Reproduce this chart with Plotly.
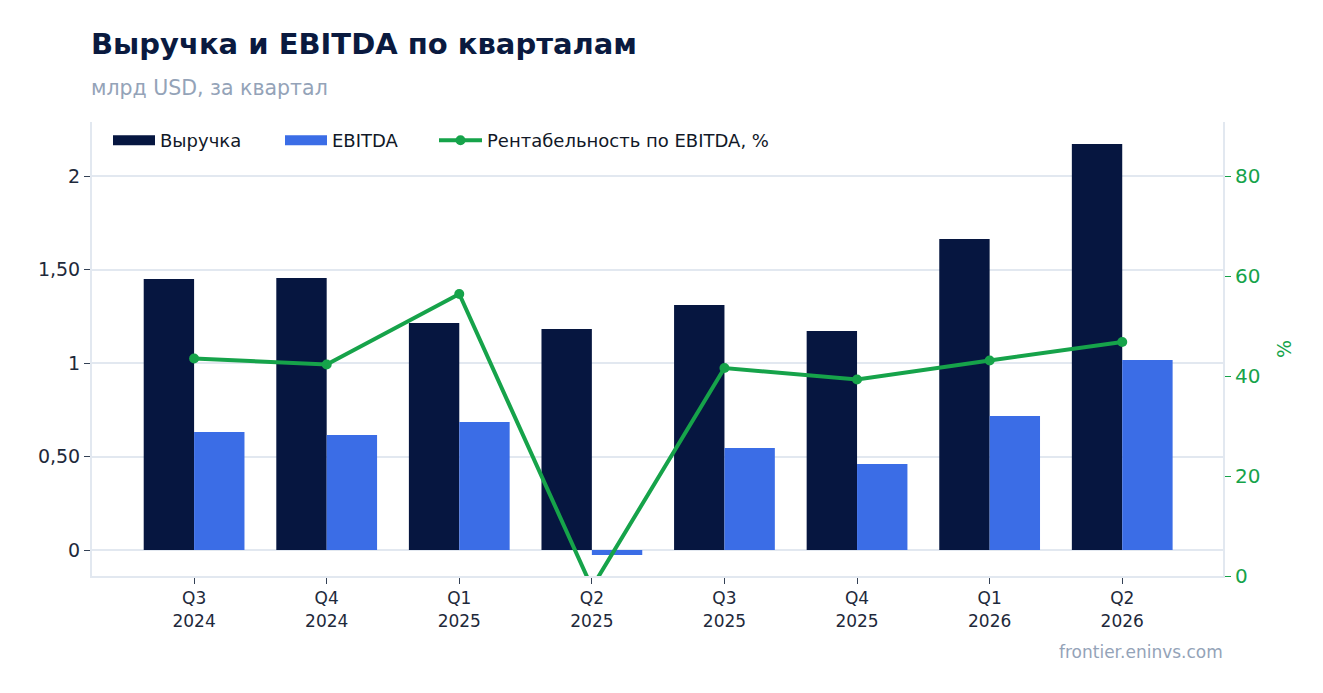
import plotly.graph_objects as go

quarters = ['Q3<br>2024', 'Q4<br>2024', 'Q1<br>2025', 'Q2<br>2025',
            'Q3<br>2025', 'Q4<br>2025', 'Q1<br>2026', 'Q2<br>2026']
revenue = [1.45, 1.455, 1.214, 1.182, 1.31, 1.171, 1.663, 2.171]
ebitda = [0.631, 0.615, 0.684, -0.027, 0.545, 0.46, 0.717, 1.016]
margin = [43.5, 42.3, 56.4, -2.3, 41.6, 39.3, 43.1, 46.8]

left_ticks = [0, 0.5, 1, 1.5, 2]
left_ticktext = ['0', '0,50', '1', '1,50', '2']
right_ticks = [0, 20, 40, 60, 80]

navy = '#061640'
blue = '#3b6de6'
green = '#16a34a'
grid = '#e2e8f0'
muted = '#94a3b8'

fig = go.Figure()

# bars (legend entries drawn by wide-line stand-ins below, like the original's rectangles)
fig.add_trace(go.Bar(x=quarters, y=revenue, name='Выручка', marker_color=navy,
                     marker_line_width=0, showlegend=False))
fig.add_trace(go.Bar(x=quarters, y=ebitda, name='EBITDA', marker_color=blue,
                     marker_line_width=0, showlegend=False))
fig.add_trace(go.Scatter(
    x=quarters, y=margin, name='Рентабельность по EBITDA, %',
    mode='lines+markers', yaxis='y2', legend='legend3',
    line=dict(color=green, width=4),
    marker=dict(color=green, size=10),
))
fig.add_trace(go.Scatter(x=[None], y=[None], name='Выручка', mode='lines',
                         line=dict(color=navy, width=13), legend='legend'))
fig.add_trace(go.Scatter(x=[None], y=[None], name='EBITDA', mode='lines',
                         line=dict(color=blue, width=13), legend='legend2'))

leg = dict(orientation='h', y=1.0, xanchor='left', yanchor='top',
           font=dict(size=18, color='#111827'), bgcolor='rgba(0,0,0,0)',
           itemwidth=42)

fig.update_layout(
    width=1307, height=677,
    paper_bgcolor='white', plot_bgcolor='white',
    font=dict(family='DejaVu Sans', color='#1e293b'),
    margin=dict(l=84, r=92, t=114, b=109),
    barmode='group', bargap=0.24, bargroupgap=0,
    showlegend=True,
    legend=dict(leg, x=(108 - 92) / 1131),
    legend2=dict(leg, x=(280 - 92) / 1131),
    legend3=dict(leg, x=(434 - 92) / 1131, itemwidth=43),
    xaxis=dict(
        range=[-0.77, 7.76], showgrid=False,
        showline=True, linecolor=grid, linewidth=2,
        ticks='outside', ticklen=6, tickcolor='#334155',
        tickfont=dict(size=17, color='#1e293b'),
    ),
    yaxis=dict(
        range=[-0.139, 2.289], tickvals=left_ticks, ticktext=left_ticktext,
        showgrid=True, gridcolor=grid, gridwidth=2, zeroline=False,
        showline=True, linecolor=grid, linewidth=2,
        ticks='outside', ticklen=6, tickcolor='#334155',
        tickfont=dict(size=19, color='#1e293b'),
    ),
    yaxis2=dict(
        overlaying='y', side='right', range=[0, 90.8], tickvals=right_ticks,
        showgrid=False, zeroline=False,
        showline=True, linecolor=grid, linewidth=2,
        ticks='outside', ticklen=6, tickcolor=green,
        tickfont=dict(size=20, color=green),
        title=dict(text='%', font=dict(size=19, color=green), standoff=18),
    ),
    annotations=[
        dict(text='<b>Выручка и EBITDA по кварталам</b>', xref='paper', yref='paper',
             x=0, y=1.172, xanchor='left', yanchor='middle', showarrow=False,
             xshift=-3, font=dict(size=29, color='#0a1a3f')),
        dict(text='млрд USD, за квартал', xref='paper', yref='paper',
             x=0, y=1.075, xanchor='left', yanchor='middle', showarrow=False,
             xshift=-3, font=dict(size=20.5, color=muted)),
        dict(text='frontier.eninvs.com', xref='paper', yref='paper',
             x=1, y=-0.167, xanchor='right', yanchor='middle', showarrow=False,
             xshift=2, font=dict(size=17, color=muted)),
    ],
)

fig.write_html('out.html')
